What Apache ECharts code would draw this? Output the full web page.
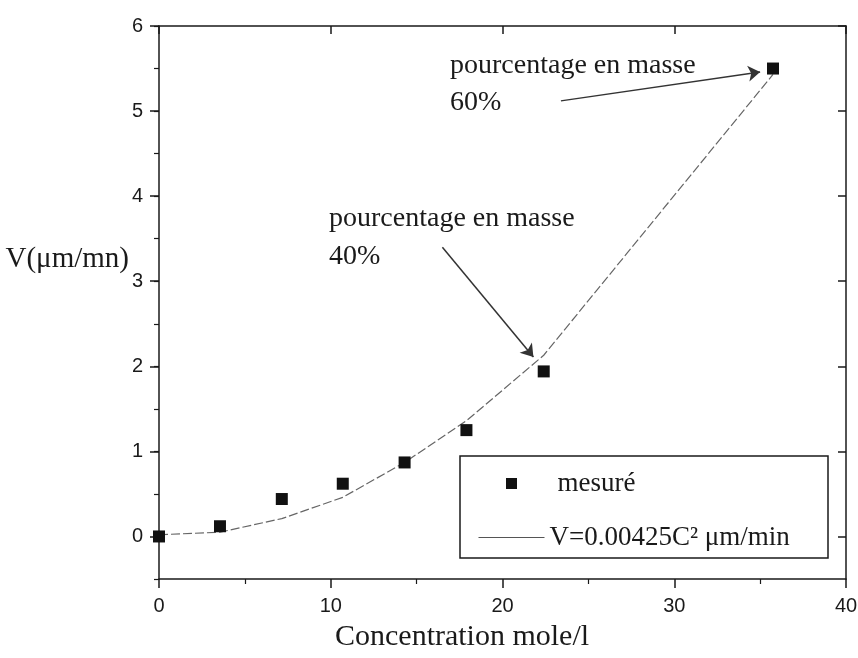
<!DOCTYPE html>
<html>
<head>
<meta charset="utf-8">
<script src="https://cdn.jsdelivr.net/npm/echarts@6/dist/echarts.min.js"></script>
<style>
html,body{margin:0;padding:0;background:#fff;}
#chart{width:858px;height:658px;}
</style>
</head>
<body>
<div id="chart"></div>
<script>
// ---- data ----
const concentration = [0, 3.55, 7.15, 10.7, 14.3, 17.9, 22.4, 35.75];
const vitesseMesuree = [0.0, 0.12, 0.44, 0.62, 0.87, 1.25, 1.94, 5.5];
const fitConcentration = [0, 3.55, 7.15, 10.7, 14.3, 17.9, 22.4, 35.75];
const fitVitesse = [0.02, 0.05, 0.21, 0.46, 0.87, 1.36, 2.13, 5.43];
const yTickValues = [0, 1, 2, 3, 4, 5, 6];
const xTickValues = [0, 10, 20, 30, 40];
const seriesNames = ['mesuré', 'V=0.00425C² μm/min'];
const arrow60 = [[23.4, 5.12], [35.0, 5.46]];
const arrow40 = [[16.5, 3.40], [21.8, 2.11]];

const measured = concentration.map((c, i) => [c, vitesseMesuree[i]]);
const fitted = fitConcentration.map((c, i) => [c, fitVitesse[i]]);

const AX = '#1a1a1a';
const serif = 'Liberation Serif';
const sans = 'Liberation Sans';

const chart = echarts.init(document.getElementById('chart'), null, {renderer: 'canvas'});
chart.setOption({
  animation: false,
  backgroundColor: '#fff',
  grid: {left: 159, right: 12, top: 26, bottom: 79, containLabel: false, outerBoundsMode: 'none'},
  xAxis: [
    {
      type: 'value', position: 'bottom', min: 0, max: 40, interval: 10,
      axisLine: {show: true, onZero: false, lineStyle: {color: AX, width: 1.5}},
      axisTick: {show: true, inside: false, length: 9, lineStyle: {color: AX, width: 1.5}},
      minorTick: {show: true, splitNumber: 2, length: 5, lineStyle: {color: AX, width: 1.2}},
      axisLabel: {margin: 17, color: AX, fontFamily: sans, fontSize: 20},
      splitLine: {show: false}
    },
    {
      type: 'value', position: 'top', min: 0, max: 40, interval: 10,
      axisLine: {show: true, onZero: false, lineStyle: {color: AX, width: 1.5}},
      axisTick: {show: true, inside: true, length: 8, lineStyle: {color: AX, width: 1.5}},
      axisLabel: {show: false},
      splitLine: {show: false}
    }
  ],
  yAxis: [
    {
      type: 'value', position: 'left', min: -0.5, max: 6,
      axisLine: {show: true, onZero: false, lineStyle: {color: AX, width: 1.5}},
      axisTick: {show: true, inside: false, length: 9, customValues: yTickValues, lineStyle: {color: AX, width: 1.5}},
      axisLabel: {margin: 16, color: AX, fontFamily: sans, fontSize: 20, customValues: yTickValues},
      splitLine: {show: false}
    },
    {
      type: 'value', position: 'left', min: -0.5, max: 6, interval: 0.5,
      axisLine: {show: false},
      axisTick: {show: true, inside: false, length: 5, lineStyle: {color: AX, width: 1.2}},
      axisLabel: {show: false},
      splitLine: {show: false}
    },
    {
      type: 'value', position: 'right', min: -0.5, max: 6,
      axisLine: {show: true, onZero: false, lineStyle: {color: AX, width: 1.5}},
      axisTick: {show: true, inside: true, length: 8, customValues: yTickValues, lineStyle: {color: AX, width: 1.5}},
      axisLabel: {show: false},
      splitLine: {show: false}
    }
  ],
  legend: {
    orient: 'vertical', left: 478, top: 470,
    itemWidth: 66, itemHeight: 11, itemGap: 27,
    padding: 0,
    textStyle: {fontFamily: serif, fontSize: 27, color: AX},
    data: [
      {name: seriesNames[0], icon: 'path://M0,0H10V10H0Z', itemStyle: {color: '#111', opacity: 1}, textStyle: {padding: [0, 0, 0, 8]}},
      {name: seriesNames[1], itemStyle: {opacity: 0}, lineStyle: {type: 'solid', width: 1, color: '#555'}}
    ]
  },
  graphic: [
    {type: 'rect', shape: {x: 460, y: 456, width: 368, height: 102},
     style: {fill: 'none', stroke: AX, lineWidth: 1.5}, silent: true, z: 10},
    {type: 'text', x: 129, y: 259, style: {text: 'V(μm/mn)', fontFamily: serif, fontSize: 29, fill: AX, align: 'right', verticalAlign: 'middle'}},
    {type: 'text', left: 450, top: 52, style: {text: 'pourcentage en masse', fontFamily: serif, fontSize: 28, fill: AX}},
    {type: 'text', left: 450, top: 89, style: {text: '60%', fontFamily: serif, fontSize: 28, fill: AX}},
    {type: 'text', left: 329, top: 205, style: {text: 'pourcentage en masse', fontFamily: serif, fontSize: 28, fill: AX}},
    {type: 'text', left: 329, top: 243, style: {text: '40%', fontFamily: serif, fontSize: 28, fill: AX}},
    {type: 'text', left: 335, top: 622, style: {text: 'Concentration mole/l', fontFamily: serif, fontSize: 30, fill: AX}}
  ],
  series: [
    {
      name: seriesNames[1], type: 'line', data: fitted,
      xAxisIndex: 0, yAxisIndex: 0,
      symbol: 'none', smooth: false, z: 2,
      itemStyle: {color: '#555'},
      lineStyle: {color: '#666', width: 1.2, type: [9, 3]},
      markLine: {
        silent: true, animation: false,
        symbol: ['none', 'arrow'], symbolSize: 12,
        label: {show: false},
        lineStyle: {type: 'solid', color: '#333', width: 1.5},
        data: [
          [{coord: arrow60[0]}, {coord: arrow60[1]}],
          [{coord: arrow40[0]}, {coord: arrow40[1]}]
        ]
      }
    },
    {
      name: seriesNames[0], type: 'scatter', data: measured,
      xAxisIndex: 0, yAxisIndex: 0,
      symbol: 'rect', symbolSize: 12, z: 3,
      itemStyle: {color: '#111', opacity: 1}
    }
  ]
});
</script>
</body>
</html>
